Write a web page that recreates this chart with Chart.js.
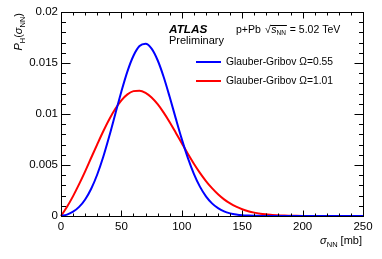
<!DOCTYPE html>
<html lang="en">
<head>
    <meta charset="UTF-8">
    <title>Glauber-Gribov sigma_NN</title>
    <script src="https://cdn.jsdelivr.net/npm/chart.js@4/dist/chart.umd.min.js"></script>
    <style>
        body{ margin: 0; background: #fff; }
        .chart-container{ width: 382px; height: 259px; }
    </style>
</head>
<body>
    <div class="chart-container">
        <canvas id="chartArea"></canvas>
    </div>

    <script>
        // sigma_NN in mb
        var sigma = [0, 5, 10, 15, 20, 25, 30, 35, 40, 45, 50, 55, 60, 65, 70, 75, 80, 85, 90, 95,
                     100, 105, 110, 115, 120, 125, 130, 135, 140, 145, 150, 155, 160, 165, 170, 175, 180, 185, 190, 195,
                     200, 205, 210, 215, 220, 225, 230, 235, 240, 245, 250];

        var omega055 = [0, 0.00014, 0.00042, 0.00089, 0.00162, 0.00267, 0.00407, 0.00581, 0.00784, 0.01003,
                        0.01221, 0.01418, 0.01571, 0.01666, 0.01689, 0.01641, 0.01527, 0.01363, 0.01166, 0.00957,
                        0.00754, 0.00570, 0.00414, 0.00288, 0.00193, 0.00124, 0.00077, 0.00045, 0.00026, 0.00014,
                        0.00007, 0.00004, 0.00002, 0.00001, 0, 0, 0, 0, 0, 0,
                        0, 0, 0, 0, 0, 0, 0, 0, 0, 0, 0];

        var omega101 = [0, 0.00090, 0.00195, 0.00312, 0.00438, 0.00571, 0.00703, 0.00831, 0.00949, 0.01051,
                        0.01134, 0.01192, 0.01224, 0.01229, 0.01207, 0.01162, 0.01096, 0.01013, 0.00919, 0.00817,
                        0.00713, 0.00610, 0.00513, 0.00423, 0.00343, 0.00273, 0.00213, 0.00163, 0.00123, 0.00091,
                        0.00066, 0.00047, 0.00033, 0.00023, 0.00016, 0.00010, 0.00007, 0.00004, 0.00003, 0.00002,
                        0.00001, 0, 0, 0, 0, 0, 0, 0, 0, 0, 0];

        var seriesLabels = ['Glauber-Gribov \u03a9=0.55', 'Glauber-Gribov \u03a9=1.01'];

        var xTicks = [0, 50, 100, 150, 200, 250];
        var xTickLabels = ['0', '50', '100', '150', '200', '250'];
        var yTicks = [0, 0.005, 0.01, 0.015, 0.02];
        var yTickLabels = ['0', '0.005', '0.01', '0.015', '0.02'];

        const FONT = "'Liberation Sans', Arial, Helvetica, sans-serif";
        Chart.defaults.font.family = FONT;
        Chart.defaults.color = '#000';

        function toPoints(ys){
            return sigma.map((s, i) => ({x: s, y: ys[i]}));
        }

        // draw a row of text pieces (for subscripts), returns total width
        function richWidth(ctx, parts){
            var w = 0;
            parts.forEach(p => { ctx.font = p.font; w += ctx.measureText(p.t).width; });
            return w;
        }
        function drawRich(ctx, parts, x, y){
            parts.forEach(p => {
                ctx.font = p.font;
                ctx.fillText(p.t, x, y + (p.dy || 0));
                x += ctx.measureText(p.t).width;
            });
            return x;
        }

        const frameTicks = {
            id: 'frameTicks',
            afterDraw(chart){
                const ctx = chart.ctx, a = chart.chartArea;
                const xs = chart.scales.x, ys = chart.scales.y;
                const L = Math.round(a.left) + 0.5, R = Math.round(a.right) + 0.5;
                const T = Math.round(a.top) + 0.5, B = Math.round(a.bottom) + 0.5;
                ctx.save();
                ctx.strokeStyle = '#000';
                ctx.lineWidth = 1;
                ctx.strokeRect(L, T, R - L, B - T);
                ctx.beginPath();
                for(let v = 0; v <= 250; v += 10){
                    const px = Math.round(xs.getPixelForValue(v)) + 0.5;
                    const len = v % 50 === 0 ? 6 : 3;
                    ctx.moveTo(px, B); ctx.lineTo(px, B - len);
                    ctx.moveTo(px, T); ctx.lineTo(px, T + len);
                }
                for(let i = 0; i <= 20; i++){
                    const py = Math.round(ys.getPixelForValue(i * 0.001)) + 0.5;
                    const len = i % 5 === 0 ? 9 : 4.5;
                    ctx.moveTo(L, py); ctx.lineTo(L + len, py);
                    ctx.moveTo(R, py); ctx.lineTo(R - len, py);
                }
                ctx.stroke();

                ctx.fillStyle = '#000';
                ctx.textBaseline = 'alphabetic';
                ctx.textAlign = 'left';

                // ATLAS label
                ctx.font = 'italic bold 11.8px ' + FONT;
                ctx.fillText('ATLAS', 169, 33);
                ctx.font = '11px ' + FONT;
                ctx.fillText('Preliminary', 169, 44);

                // p+Pb sqrt(s_NN)
                ctx.font = '10.5px ' + FONT;
                ctx.fillText('p+Pb', 236, 33);
                ctx.fillText('\u221a', 265, 33);
                var sx = 265 + ctx.measureText('\u221a').width;
                var ex = drawRich(ctx, [
                    {t: 's', font: 'italic 10.5px ' + FONT},
                    {t: 'NN', font: '6.5px ' + FONT, dy: 2}
                ], sx + 0.5, 33);
                ctx.beginPath();
                ctx.moveTo(sx - 0.5, 25.5); ctx.lineTo(ex + 1, 25.5);
                ctx.stroke();
                ctx.font = '10.5px ' + FONT;
                ctx.fillText(' = 5.02 TeV', ex + 1, 33);

                // legend
                const legY = [62, 81];
                chart.data.datasets.forEach((ds, i) => {
                    ctx.strokeStyle = ds.borderColor;
                    ctx.lineWidth = 2;
                    ctx.beginPath();
                    ctx.moveTo(196, legY[i]); ctx.lineTo(221, legY[i]);
                    ctx.stroke();
                    ctx.font = '10.3px ' + FONT;
                    ctx.textBaseline = 'middle';
                    ctx.fillText(ds.label, 226, legY[i]);
                });
                ctx.textBaseline = 'alphabetic';

                // x title
                var xt = [
                    {t: '\u03c3', font: 'italic 11px ' + FONT},
                    {t: 'NN', font: '7.5px ' + FONT, dy: 2.5},
                    {t: ' [mb]', font: '11px ' + FONT}
                ];
                drawRich(ctx, xt, 362 - richWidth(ctx, xt), 244);

                // y title
                var yt = [
                    {t: 'P', font: 'italic 11px ' + FONT},
                    {t: 'H', font: '7.5px ' + FONT, dy: 2.5},
                    {t: '(', font: '11px ' + FONT},
                    {t: '\u03c3', font: 'italic 11px ' + FONT},
                    {t: 'NN', font: '7.5px ' + FONT, dy: 2.5},
                    {t: ')', font: '11px ' + FONT}
                ];
                ctx.translate(22, 13);
                ctx.rotate(-Math.PI / 2);
                drawRich(ctx, yt, -richWidth(ctx, yt), 0);
                ctx.restore();
            }
        };

        const data = {
            datasets: [
                {
                    label: seriesLabels[0],
                    data: toPoints(omega055),
                    borderColor: '#0000ff',
                    backgroundColor: '#0000ff',
                    borderWidth: 2,
                    pointRadius: 0,
                    cubicInterpolationMode: 'monotone',
                    clip: 3
                },
                {
                    label: seriesLabels[1],
                    data: toPoints(omega101),
                    borderColor: '#ff0000',
                    backgroundColor: '#ff0000',
                    borderWidth: 2,
                    pointRadius: 0,
                    cubicInterpolationMode: 'monotone',
                    clip: 3
                }
            ]
        };

        const config = {
            type: 'line',
            data,
            options: {
                responsive: true,
                maintainAspectRatio: false,
                animation: false,
                devicePixelRatio: 1,
                layout: { padding: { left: 0, right: 19, top: 12, bottom: 0 } },
                plugins: {
                    legend: { display: false },
                    tooltip: { enabled: false }
                },
                scales: {
                    x: {
                        type: 'linear',
                        min: 0,
                        max: 250,
                        grid: { display: false, drawTicks: false },
                        border: { display: false },
                        afterBuildTicks: s => { s.ticks = xTicks.map(v => ({value: v})); },
                        afterFit: s => { s.height = 43; },
                        ticks: {
                            padding: 4,
                            maxRotation: 0,
                            autoSkip: false,
                            font: { size: 11.5 },
                            callback: (v) => xTickLabels[xTicks.indexOf(v)]
                        }
                    },
                    y: {
                        min: 0,
                        max: 0.02,
                        grid: { display: false, drawTicks: false },
                        border: { display: false },
                        afterBuildTicks: s => { s.ticks = yTicks.map(v => ({value: v})); },
                        afterFit: s => { s.width = 61; },
                        ticks: {
                            padding: 3,
                            autoSkip: false,
                            font: { size: 11.5 },
                            callback: (v) => yTickLabels[yTicks.indexOf(v)]
                        }
                    }
                }
            },
            plugins: [frameTicks]
        };

        var myChart = new Chart(
            document.getElementById('chartArea'),
            config
        );
    </script>
</body>
</html>
